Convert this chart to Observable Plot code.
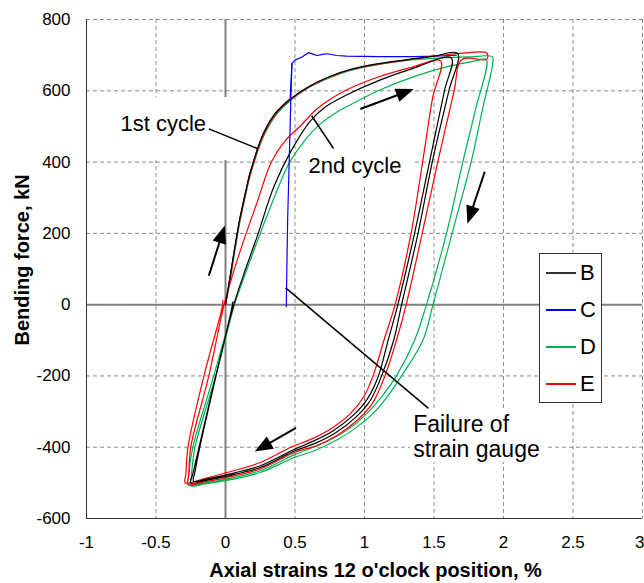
<!DOCTYPE html>
<html><head><meta charset="utf-8">
<script src="https://cdn.jsdelivr.net/npm/d3@7"></script>
<script src="https://cdn.jsdelivr.net/npm/@observablehq/plot@0.6"></script>
<style>
html,body{margin:0;padding:0;background:#fff;overflow:hidden;}
#wrap{position:relative;width:644px;height:583px;font-family:"Liberation Sans",Arial,sans-serif;}
#legend{position:absolute;left:539px;top:253px;width:63px;height:150px;box-sizing:border-box;border:1.5px solid #333;background:#fff;}
.row{position:absolute;left:0;height:26px;display:flex;align-items:center;}
.sw{width:30px;height:2px;margin-left:6px;}
.lb{margin-left:4px;font-size:22px;line-height:26px;color:#000;}
</style></head><body><div id="wrap"></div>
<script>
// ---- data ----
const xTicks = [-1,-0.5,0,0.5,1,1.5,2,2.5,3];
const yTicks = [-600,-400,-200,0,200,400,600,800];
const seriesNames = ["B","C","D","E"];

const B_path = [[0,0],[0.03,70],[0.06,144],[0.1,235],[0.13,290],[0.17,360],[0.2,400],[0.23,437],[0.27,478],[0.32,515],[0.37,542],[0.47,578],[0.6,612],[0.75,640],[0.9,660],[1.1,676],[1.35,690],[1.5,697],[1.67,705],
 [1.607,600],[1.49,405],[1.385,200],[1.267,0],
 [1.21,-100],[1.123,-200],[1.04,-270],[0.94,-315],[0.79,-360],[0.64,-390],[0.5,-410],[0.25,-457],[0,-482],[-0.15,-494],[-0.25,-500],
 [-0.235,-475],[-0.19,-400],[-0.07,-200],[0.06,0],
 [0.14,95],[0.227,190],[0.347,330],[0.47,430],[0.61,515],[0.72,555],[0.87,588],[1.11,630],[1.35,663],[1.625,692],
 [1.575,600],[1.47,405],[1.36,200],[1.24,0],
 [1.17,-100],[1.10,-200],[1.02,-265],[0.92,-310],[0.77,-355],[0.62,-385],[0.5,-405],[0.25,-452],[0,-478],[-0.12,-488],[-0.23,-495],
 [-0.22,-470],[-0.185,-400],[-0.068,-200],[0.05,0],[0.05,6]];

const C_path = [[0,0],[0.03,70],[0.06,144],[0.1,235],[0.13,290],[0.17,360],[0.2,400],[0.23,437],[0.27,478],[0.32,515],[0.37,542],[0.42,562],[0.465,577],[0.472,630],[0.478,677],[0.5,686],[0.55,695],[0.597,707],[0.63,703],[0.66,699],[0.7,702],[0.73,704],[0.8,699],[0.87,697],[1.1,696],[1.35,696],[1.5,697],[1.62,699],[1.66,700]];
const C_drop = [[0.478,677],[0.466,517],[0.447,237],[0.437,-5]];

const D_path = [[0,0],[0.035,70],[0.065,144],[0.105,235],[0.135,290],[0.175,358],[0.205,398],[0.235,433],[0.275,473],[0.325,510],[0.375,538],[0.475,575],[0.6,609],[0.75,637],[0.9,657],[1.1,673],[1.35,687],[1.6,693],[1.75,695],[1.92,695],
 [1.92,672],[1.85,550],[1.77,405],[1.63,200],[1.493,0],
 [1.42,-100],[1.267,-200],[1.16,-260],[1.075,-300],[0.94,-345],[0.8,-380],[0.64,-410],[0.5,-428],[0.25,-471],[0,-494],[-0.15,-503],[-0.25,-508],
 [-0.245,-480],[-0.22,-400],[-0.07,-200],[0.065,0],
 [0.16,105],[0.25,200],[0.35,300],[0.43,375],[0.47,405],[0.565,458],[0.67,503],[0.80,540],[0.87,555],[1.11,602],[1.35,639],[1.59,667],[1.80,684],[1.876,688],
 [1.80,550],[1.71,405],[1.59,200],[1.446,0],
 [1.36,-100],[1.23,-200],[1.12,-260],[1.03,-300],[0.9,-345],[0.75,-380],[0.6,-405],[0.5,-420],[0.25,-466],[0,-490],[-0.15,-500],[-0.27,-505],
 [-0.265,-480],[-0.235,-400],[-0.085,-200],[0.055,0],[0.055,10]];

const E_path = [[0,0],[0.03,68],[0.06,140],[0.1,230],[0.13,286],[0.17,355],[0.2,395],[0.23,432],[0.27,473],[0.32,511],[0.37,539],[0.47,576],[0.6,611],[0.75,639],[0.9,659],[1.1,675],[1.35,689],[1.5,697],[1.69,705],
 [1.88,706],[1.88,688],[1.70,688],
 [1.645,600],[1.53,405],[1.415,200],[1.30,0],
 [1.23,-100],[1.147,-200],[1.06,-275],[0.96,-320],[0.81,-365],[0.66,-395],[0.5,-414],[0.25,-461],[0,-486],[-0.15,-497],[-0.27,-505],
 [-0.265,-480],[-0.25,-400],[-0.12,-200],[-0.01,0],
 [0.06,95],[0.14,190],[0.23,290],[0.33,400],[0.43,460],[0.54,502],[0.67,553],[0.87,602],[1.11,640],[1.35,667],[1.548,684],
 [1.49,580],[1.42,405],[1.335,200],[1.22,0],
 [1.14,-100],[1.07,-190],[1.0,-255],[0.9,-305],[0.75,-350],[0.6,-380],[0.47,-400],[0.25,-443],[0,-472],[-0.15,-488],[-0.29,-500],
 [-0.285,-475],[-0.27,-400],[-0.155,-200],[-0.02,0],[-0.02,12]];

const noteTexts = ["1st cycle","2nd cycle","Failure of","strain gauge"];
const noteX = [-0.14, 0.597, 1.35, 1.35];
const noteY = [488, 369, -357, -428];
const leaderFrom = [[-0.12,493],[0.62,530],[0.433,47]];
const leaderTo = [[0.23,438],[0.777,438],[1.46,-291]];
const arrowTail = [[-0.12,81],[0.97,549],[1.865,373],[0.507,-346]];
const arrowTip = [[-0.005,222],[1.355,605],[1.74,227],[0.21,-412]];
const textBoxes = [[-0.85,0.05,404,581],[0.56,1.345,334,432],[1.33,2.32,-443,-297]];

// ---- layout / styles ----
const W = 644, H = 583, mL = 86, mR = 2, mT = 19, mB = 65;
const colors = {B:"#000000", C:"#0000ff", D:"#00b050", E:"#ff0000"};
const xs = d3.scaleLinear([-1,3],[mL, W-mR]);
const ys = d3.scaleLinear([-600,800],[H-mB, mT]);
const toRows = (pts) => pts.map(([x,y]) => ({x,y}));

const arrows = arrowTail.map((t,i) => {
  const p = arrowTip[i];
  const dx = xs(p[0]) - xs(t[0]), dy = ys(p[1]) - ys(t[1]);
  const len = Math.hypot(dx,dy), ux = dx/len, uy = dy/len;
  return {x1:t[0], y1:t[1], x2:p[0], y2:p[1],
    sx2: xs.invert(xs(p[0]) - ux*10), sy2: ys.invert(ys(p[1]) - uy*10),
    angle: Math.atan2(dx, -dy)*180/Math.PI};
});
const headSymbol = {draw(ctx){ ctx.moveTo(0,0); ctx.lineTo(-7,18); ctx.lineTo(7,18); ctx.closePath(); }};

const lineOpts = (c, curve) => ({x:"x", y:"y", stroke:c, strokeWidth:1.2, curve});
const tickFont = {fontSize:17, fill:"#000"};

const plot = Plot.plot({
  width: W, height: H, marginLeft: mL, marginRight: mR, marginTop: mT, marginBottom: mB,
  style: {fontFamily: '"Liberation Sans", Arial, sans-serif', fontSize: "17px", color: "#000", background: "#fff", overflow: "visible"},
  x: {domain: [-1,3], axis: null},
  y: {domain: [-600,800], ticks: yTicks, tickSize: 0, tickPadding: 16, tickFormat: d => String(d), label: null},
  marks: [
    Plot.ruleX(xTicks, {stroke:"#8c8c8c", strokeDasharray:"4,3", strokeWidth:1}),
    Plot.ruleY(yTicks, {stroke:"#8c8c8c", strokeDasharray:"4,3", strokeWidth:1}),
    Plot.ruleX([0], {stroke:"#808080", strokeWidth:2}),
    Plot.ruleY([0], {stroke:"#808080", strokeWidth:2}),
    Plot.ruleX([-1], {stroke:"#333", strokeWidth:1}),
    Plot.ruleY([-600], {stroke:"#333", strokeWidth:1}),
    Plot.line(toRows(C_path), lineOpts(colors.C, "linear")),
    Plot.line(toRows(D_path), lineOpts(colors.D, "catmull-rom")),
    Plot.line(toRows(E_path), lineOpts(colors.E, "catmull-rom")),
    Plot.line(toRows(B_path), lineOpts(colors.B, "catmull-rom")),
    Plot.line(toRows(C_drop), lineOpts(colors.C, "linear")),
    Plot.rect(textBoxes, {x1:d=>d[0], x2:d=>d[1], y1:d=>d[2], y2:d=>d[3], fill:"white"}),
    Plot.link(leaderFrom.map((f,i)=>({f, t:leaderTo[i]})), {x1:d=>d.f[0], y1:d=>d.f[1], x2:d=>d.t[0], y2:d=>d.t[1], stroke:"#000", strokeWidth:1.5}),
    Plot.link(arrows, {x1:"x1", y1:"y1", x2:"sx2", y2:"sy2", stroke:"#000", strokeWidth:2}),
    Plot.dot(arrows, {x:"x2", y:"y2", symbol: headSymbol, rotate:"angle", fill:"#000", stroke:"none", r:5}),
    // x tick labels (the last one kept inside the page edge)
    Plot.text(xTicks.slice(0,-1), {x:d=>d, text:d=>String(d), frameAnchor:"bottom", dy:17, lineAnchor:"top", textAnchor:"middle", ...tickFont}),
    Plot.text(xTicks.slice(-1), {x:d=>d, text:d=>String(d), frameAnchor:"bottom", dy:17, dx:2, lineAnchor:"top", textAnchor:"end", ...tickFont}),
    Plot.text([0], {x:()=>noteX[0], y:()=>noteY[0], text:()=>noteTexts[0], textAnchor:"end", lineAnchor:"bottom", fontSize:22, fill:"#000"}),
    Plot.text([1,2,3], {x:i=>noteX[i], y:i=>noteY[i], text:i=>noteTexts[i], textAnchor:"start", lineAnchor:"bottom", fontSize:i=>i===1?22:23, fill:"#000"}),
    Plot.text(["Axial strains 12 o'clock position, %"], {text:d=>d, frameAnchor:"bottom", dx:11, dy:58, textAnchor:"middle", lineAnchor:"bottom", fontSize:20, fontWeight:"bold", fill:"#000"}),
    Plot.text(["Bending force, kN"], {text:d=>d, frameAnchor:"left", rotate:-90, dx:-57.5, dy:-9, textAnchor:"middle", lineAnchor:"bottom", fontSize:20, fontWeight:"bold", fill:"#000"})
  ]
});

const wrap = document.getElementById("wrap");
wrap.appendChild(plot);
const leg = document.createElement("div");
leg.id = "legend";
seriesNames.forEach((n,i) => {
  const row = document.createElement("div");
  row.className = "row";
  row.style.top = (5.5 + i*37) + "px";
  const sw = document.createElement("div");
  sw.className = "sw";
  sw.style.background = n === "B" ? "#333333" : colors[n];
  const lb = document.createElement("span");
  lb.className = "lb"; lb.textContent = n;
  row.appendChild(sw); row.appendChild(lb);
  leg.appendChild(row);
});
wrap.appendChild(leg);
</script></body></html>
